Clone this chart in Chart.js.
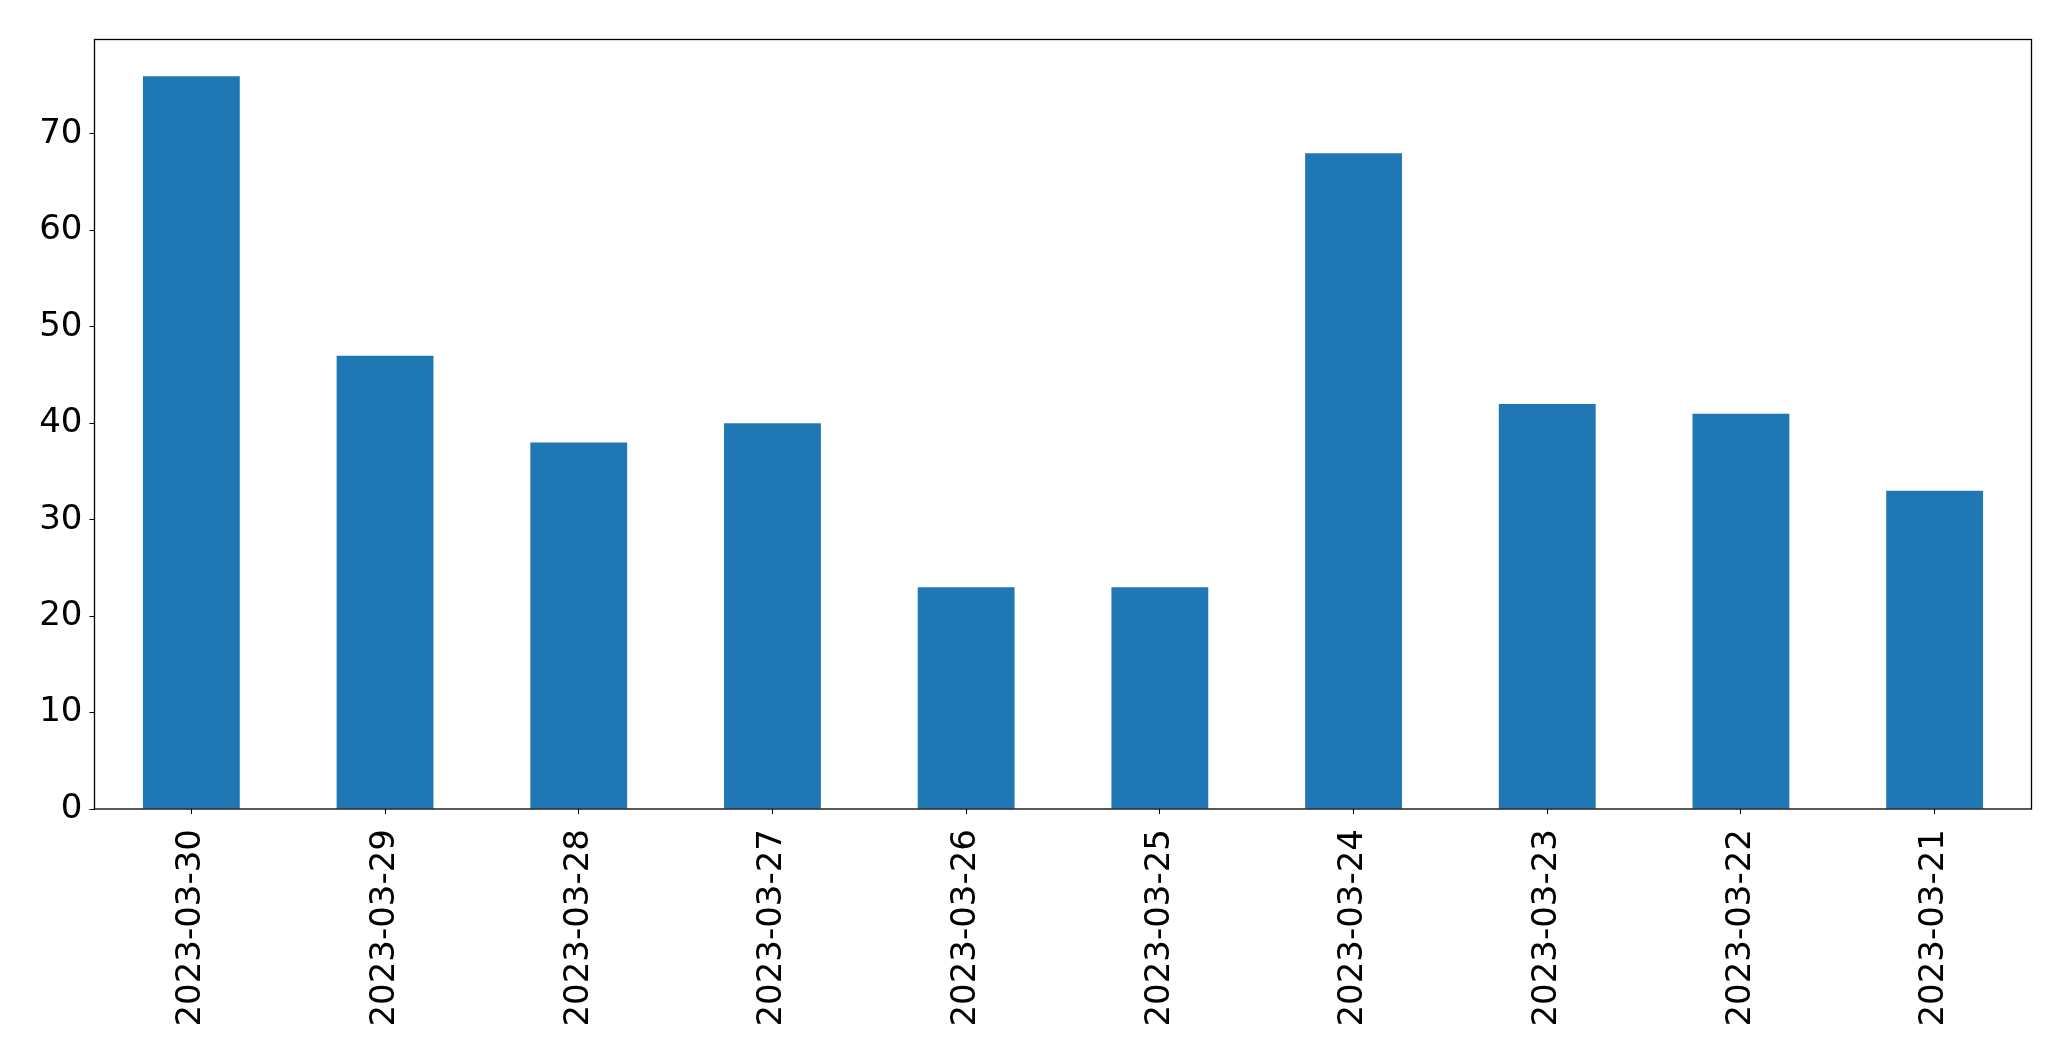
<!DOCTYPE html>
<html>
<head>
<meta charset="utf-8">
<script src="https://cdn.jsdelivr.net/npm/chart.js@4"></script>
<style>
    html, body { margin: 0; padding: 0; background: #ffffff; }
    #wrap { width: 2071px; height: 1061px; }
</style>
</head>
<body>
<div id="wrap"><canvas id="chart" width="2071" height="1061"></canvas></div>
<script>
const labels = ["2023-03-30", "2023-03-29", "2023-03-28", "2023-03-27", "2023-03-26",
                "2023-03-25", "2023-03-24", "2023-03-23", "2023-03-22", "2023-03-21"];
const values = [76, 47, 38, 40, 23, 23, 68, 42, 41, 33];
const yTicks = [0, 10, 20, 30, 40, 50, 60, 70];

const font = { family: "DejaVu Sans", size: 34 };

// frame around the plot area, like matplotlib's spines
const frame = {
    id: "frame",
    afterDraw(c) {
        const a = c.chartArea;
        const g = c.ctx;
        g.save();
        g.strokeStyle = "#000000";
        g.lineWidth = 1.3;
        g.strokeRect(a.left, a.top, a.right - a.left, a.bottom - a.top);
        g.restore();
    }
};

const ctx = document.getElementById("chart").getContext("2d");

const chart = new Chart(ctx, {
    type: "bar",
    data: {
        labels,
        datasets: [{
            data: values,
            backgroundColor: "#1f77b4",
            borderWidth: 0,
            barPercentage: 0.5,
            categoryPercentage: 1
        }]
    },
    options: {
        responsive: false,
        animation: false,
        layout: { padding: { top: 39.5, right: 39.5, left: 0, bottom: 0 } },
        plugins: {
            legend: { display: false },
            tooltip: { enabled: false }
        },
        scales: {
            x: {
                afterFit: s => { s.height = 1061 - 809; },
                grid: {
                    offset: false,
                    drawOnChartArea: false,
                    drawTicks: true,
                    tickLength: 5,
                    color: "#000000"
                },
                border: { display: false },
                ticks: {
                    color: "#000000",
                    font,
                    minRotation: 90,
                    maxRotation: 90,
                    padding: 15,
                    autoSkip: false
                }
            },
            y: {
                min: 0,
                max: 79.8,
                afterFit: s => { s.width = 94.5; },
                afterBuildTicks: s => { s.ticks = yTicks.map(v => ({ value: v })); },
                grid: {
                    drawOnChartArea: false,
                    drawTicks: true,
                    tickLength: 5,
                    color: "#000000"
                },
                border: { display: false },
                ticks: {
                    color: "#000000",
                    font,
                    padding: 7
                }
            }
        }
    },
    plugins: [frame]
});
</script>
</body>
</html>
